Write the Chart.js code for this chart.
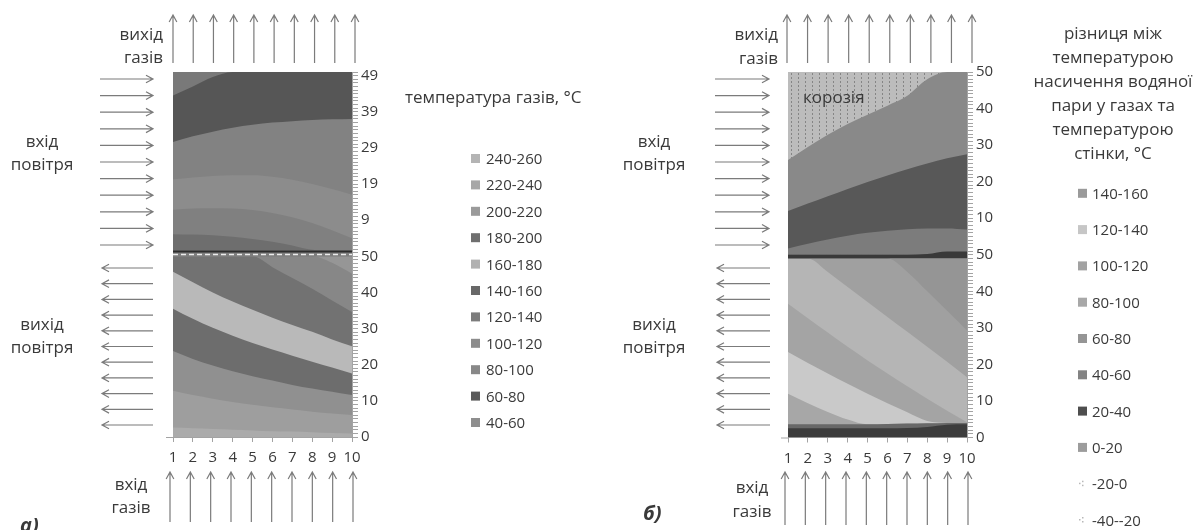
<!DOCTYPE html>
<html lang="uk">
<head>
<meta charset="utf-8">
<title>Температурні поля повітропідігрівника</title>
<script src="https://cdn.jsdelivr.net/npm/chart.js@4.4.1/dist/chart.umd.min.js"></script>
<style>
  html, body { margin: 0; background: #fff; }
  .sheet { position: relative; width: 1199px; height: 530px; overflow: hidden; }
  .sheet canvas { position: absolute; top: 0; }
  #chart-a { left: 0; }
  #chart-b { left: 600px; }
</style>
</head>
<body>
<div class="sheet">
  <canvas id="chart-a" width="600" height="530"></canvas>
  <canvas id="chart-b" width="599" height="530"></canvas>
</div>
<script>
const FONT = '"Open Sans", "DejaVu Sans", sans-serif';
const INK = '#3a3a3a';
const AXIS = '#a3a3a3';

const positions = [1, 2, 3, 4, 5, 6, 7, 8, 9, 10];

// а) lower pass (0..50): upper edge of each gas temperature band
const aLow240 = [2.6, 2.4, 2.2, 2.0, 1.8, 1.6, 1.5, 1.3, 1.1, 1.0];
const aLow220 = [12.8, 11.6, 10.6, 9.7, 8.9, 8.2, 7.6, 7.0, 6.5, 6.1];
const aLow200 = [23.8, 21.6, 19.8, 18.2, 16.8, 15.6, 14.4, 13.4, 12.5, 11.6];
const aLow180 = [35.5, 32.7, 30.2, 28.0, 26.0, 24.2, 22.5, 20.8, 19.2, 17.6];
const aLow160 = [45.7, 42.8, 40.0, 37.5, 35.2, 33.0, 31.0, 29.1, 27.0, 25.1];
const aLow140 = [50, 50, 50, 50, 50, 47.0, 44.0, 41.0, 37.8, 34.6];
const aLow120 = [50, 50, 50, 50, 50, 50, 50, 50, 48.2, 45.2];
const aLow100 = [50, 50, 50, 50, 50, 50, 50, 50, 50, 50];
const aLowColors = ['#ababab', '#9e9e9e', '#909090', '#6d6d6d', '#b9b9b9', '#727272', '#878787', '#969696'];

// а) upper pass (51.6..101)
const aUp140 = [56.1, 56.0, 55.8, 55.4, 54.8, 54.0, 53.0, 51.8, 51.6, 51.6];
const aUp120 = [62.9, 63.2, 63.3, 63.2, 62.8, 62.0, 60.8, 59.2, 57.2, 55.0];
const aUp100 = [71.3, 71.8, 72.2, 72.4, 72.4, 72.0, 71.2, 70.0, 68.6, 67.0];
const aUp80 = [81.6, 83.2, 84.5, 85.6, 86.4, 87.0, 87.4, 87.7, 87.9, 88.0];
const aUp60 = [94.5, 97.0, 99.6, 101, 101, 101, 101, 101, 101, 101];
const aUp40 = [101, 101, 101, 101, 101, 101, 101, 101, 101, 101];
const aUpColors = ['#6e6e6e', '#808080', '#8c8c8c', '#828282', '#565656', '#797979'];

// а) partition between the passes
const aSplit = [51.6, 51.6, 51.6, 51.6, 51.6, 51.6, 51.6, 51.6, 51.6, 51.6];
const aSplitDark = [51.3, 51.3, 51.3, 51.3, 51.3, 51.3, 51.3, 51.3, 51.3, 51.3];
const aSplitDash = [50.5, 50.5, 50.5, 50.5, 50.5, 50.5, 50.5, 50.5, 50.5, 50.5];

const aTickValues = [0, 10, 20, 30, 40, 50, 60, 70, 80, 90, 100];
const aTickLabels = ['0', '10', '20', '30', '40', '50', '9', '19', '29', '39', '49'];
const aLegendLabels = ['240-260', '220-240', '200-220', '180-200', '160-180', '140-160', '120-140', '100-120', '80-100', '60-80', '40-60'];
const aLegendColors = ['#b4b4b4', '#a7a7a7', '#9a9a9a', '#6f6f6f', '#b1b1b1', '#686868', '#7c7c7c', '#8c8c8c', '#888888', '#5a5a5a', '#8e8e8e'];

// б) lower pass (0..49): wall temperature margin bands
const bLow1 = [2.5, 2.5, 2.5, 2.5, 2.5, 2.5, 2.6, 2.9, 3.5, 3.6];
const bLow2 = [3.6, 3.6, 3.6, 3.6, 3.6, 3.7, 3.8, 3.9, 4.0, 4.0];
const bLow3 = [12.0, 9.4, 7.0, 4.9, 3.6, 3.7, 3.8, 3.9, 4.0, 4.0];
const bLow4 = [23.4, 20.4, 17.5, 14.7, 12.0, 9.4, 6.9, 4.5, 4.0, 4.0];
const bLow5 = [36.6, 32.6, 28.7, 24.8, 21.1, 17.5, 14.0, 10.6, 7.3, 4.2];
const bLow6 = [49, 49, 45.3, 41.2, 37.1, 33.0, 28.9, 24.8, 20.7, 16.5];
const bLow7 = [49, 49, 49, 49, 49, 49, 45.3, 40.0, 34.7, 29.3];
const bLow8 = [49, 49, 49, 49, 49, 49, 49, 49, 49, 49];
const bLowColors = ['#3c3c3c', '#686868', '#a7a7a7', '#c9c9c9', '#a4a4a4', '#b5b5b5', '#a0a0a0', '#959595'];

// б) upper pass (50..100), the top band is the corrosion zone
const bUp1 = [51.7, 53.0, 54.2, 55.2, 56.0, 56.6, 57.0, 57.2, 57.2, 56.9];
const bUp2 = [62.0, 64.0, 66.0, 68.0, 69.9, 71.7, 73.4, 75.0, 76.4, 77.5];
const bUp3 = [75.9, 79.5, 82.8, 85.8, 88.3, 90.8, 93.5, 98.0, 100, 100];
const bUp4 = [100, 100, 100, 100, 100, 100, 100, 100, 100, 100];
const bUpColors = ['#7c7c7c', '#585858', '#898989', null];

// б) partition between the passes
const bSplit = [50, 50, 50, 50, 50, 50, 50, 50.2, 50.9, 50.9];

const bTickValues = [0, 10, 20, 30, 40, 50, 60, 70, 80, 90, 100];
const bTickLabels = ['0', '10', '20', '30', '40', '50', '10', '20', '30', '40', '50'];
const bLegendLabels = ['140-160', '120-140', '100-120', '80-100', '60-80', '40-60', '20-40', '0-20', '-20-0', '-40--20'];
const bLegendColors = ['#9a9a9a', '#c6c6c6', '#a2a2a2', '#a8a8a8', '#959595', '#838383', '#4e4e4e', '#9c9c9c', null, null];

function dotPattern() {
	const c = document.createElement( 'canvas' );
	c.width = 7;
	c.height = 4;
	const g = c.getContext( '2d' );
	g.fillStyle = '#bcbcbc';
	g.fillRect( 0, 0, 7, 4 );
	g.fillStyle = '#858585';
	g.fillRect( 2, 1, 1, 2 );
	return g.createPattern( c, 'repeat' );
}

const toPoints = ( values ) => positions.map( ( x, i ) => ( { x, y: values[ i ] } ) );

// Filled area from a band's upper edge down to the floor of its pass.
function band( values, color, floor ) {
	return {
		data: toPoints( values ),
		backgroundColor: color,
		borderColor: 'rgba(0,0,0,0)',
		borderWidth: 0,
		pointRadius: 0,
		fill: { value: floor },
		cubicInterpolationMode: 'monotone',
	};
}

function rule( values, color, width, dash ) {
	return {
		data: toPoints( values ),
		borderColor: color,
		borderWidth: width,
		borderDash: dash || [],
		pointRadius: 0,
		fill: false,
	};
}

function arrow( ctx, x0, y0, x1, y1 ) {
	const a = Math.atan2( y1 - y0, x1 - x0 );
	const len = 8;
	const spread = 0.5;
	ctx.beginPath();
	ctx.moveTo( x0, y0 );
	ctx.lineTo( x1, y1 );
	ctx.moveTo( x1 - len * Math.cos( a - spread ), y1 - len * Math.sin( a - spread ) );
	ctx.lineTo( x1, y1 );
	ctx.lineTo( x1 - len * Math.cos( a + spread ), y1 - len * Math.sin( a + spread ) );
	ctx.stroke();
}

// Flow arrows, captions and legend around the plot.
const decor = {
	id: 'decor',
	afterDraw( chart, args, o ) {
		const { ctx, chartArea: area } = chart;
		ctx.save();

		// axis stub left of the origin
		ctx.strokeStyle = AXIS;
		ctx.lineWidth = 1;
		ctx.beginPath();
		ctx.moveTo( area.left - 7, area.bottom + 0.5 );
		ctx.lineTo( area.left, area.bottom + 0.5 );
		ctx.stroke();

		ctx.strokeStyle = '#7b7b7b';
		ctx.lineWidth = 1.2;
		const n = positions.length;
		positions.forEach( ( p, i ) => {
			const t = i / ( n - 1 );
			const xo = o.gasOut[ 0 ] + t * ( o.gasOut[ 1 ] - o.gasOut[ 0 ] );
			arrow( ctx, xo, 63, xo, 15 );
			const xi = o.gasIn[ 0 ] + t * ( o.gasIn[ 1 ] - o.gasIn[ 0 ] );
			arrow( ctx, xi, o.gasInY[ 0 ], xi, o.gasInY[ 1 ] );
		} );
		for ( let i = 0; i < 11; i++ ) {
			const yi = 79 + i * 16.6;
			arrow( ctx, o.airIn[ 0 ], yi, o.airIn[ 1 ], yi );
			const yo = 268 + i * 15.7;
			arrow( ctx, o.airOut[ 1 ], yo, o.airOut[ 0 ], yo );
		}

		ctx.fillStyle = INK;
		ctx.textBaseline = 'alphabetic';
		ctx.font = `17px ${ FONT }`;
		o.texts.forEach( ( [ text, x, y, align ] ) => {
			ctx.textAlign = align;
			ctx.fillText( text, x, y );
		} );

		ctx.textAlign = o.title.align;
		o.title.lines.forEach( ( line, i ) => {
			ctx.fillText( line, o.title.x, o.title.y + i * o.title.step );
		} );

		ctx.font = `bold italic 20px ${ FONT }`;
		ctx.textAlign = 'left';
		ctx.fillText( o.tag[ 0 ], o.tag[ 1 ], o.tag[ 2 ] );

		const lg = o.legend;
		ctx.font = `15px ${ FONT }`;
		lg.labels.forEach( ( label, i ) => {
			const y = lg.y + i * lg.step;
			const color = lg.colors[ i ];
			if ( color ) {
				ctx.fillStyle = color;
				ctx.fillRect( lg.x, y - 4.5, 9, 9 );
			} else {
				ctx.fillStyle = '#b8b8b8';
				ctx.fillRect( lg.x + 4, y - 3, 1.5, 1.5 );
				ctx.fillRect( lg.x + 4, y + 1, 1.5, 1.5 );
				ctx.fillRect( lg.x + 1, y - 1, 1.5, 1.5 );
			}
			ctx.fillStyle = INK;
			ctx.fillText( label, lg.x + lg.gap, y + 5.5 );
		} );

		ctx.restore();
	},
};

function makeOptions( max, tickValues, tickLabels, padding, decorOptions ) {
	return {
		responsive: false,
		animation: false,
		events: [],
		layout: { padding },
		plugins: {
			legend: { display: false },
			tooltip: { enabled: false },
			decor: decorOptions,
		},
		scales: {
			x: {
				type: 'linear',
				min: 1,
				max: 10,
				afterBuildTicks: ( axis ) => {
					axis.ticks = positions.map( ( value ) => ( { value } ) );
				},
				afterFit: ( axis ) => {
					axis.height = 30;
				},
				ticks: { autoSkip: false, color: INK, font: { family: FONT, size: 15 }, padding: 7, maxRotation: 0 },
				grid: { drawOnChartArea: false, tickLength: 5, color: AXIS },
				border: { color: AXIS },
			},
			y: {
				type: 'linear',
				position: 'right',
				min: 0,
				max,
				afterBuildTicks: ( axis ) => {
					axis.ticks = [];
					for ( let v = 0; v <= max; v++ ) {
						axis.ticks.push( { value: v } );
					}
				},
				afterFit: ( axis ) => {
					axis.width = 40;
				},
				ticks: {
					autoSkip: false,
					color: INK,
					font: { family: FONT, size: 15 },
					padding: 3,
					callback: ( value ) => {
						const i = tickValues.indexOf( value );
						return i < 0 ? '' : tickLabels[ i ];
					},
				},
				grid: { drawOnChartArea: false, tickLength: 6, color: AXIS },
				border: { color: AXIS },
			},
		},
	};
}

// Chart а): gas temperature
const aLowEdges = [ aLow240, aLow220, aLow200, aLow180, aLow160, aLow140, aLow120, aLow100 ];
const aUpEdges = [ aUp140, aUp120, aUp100, aUp80, aUp60, aUp40 ];
new Chart( document.getElementById( 'chart-a' ), {
	type: 'line',
	data: {
		datasets: [
			rule( aSplitDash, '#ececec', 1.5, [ 5, 3 ] ),
			rule( aSplitDark, '#2d2d2d', 2 ),
			band( aSplit, '#7d7d7d', 49.9 ),
			...aLowEdges.map( ( d, i ) => band( d, aLowColors[ i ], 0 ) ),
			...aUpEdges.map( ( d, i ) => band( d, aUpColors[ i ], 51.6 ) ),
		],
	},
	options: makeOptions( 101, aTickValues, aTickLabels,
		{ left: 173, right: 208, top: 72, bottom: 63 },
		{
			gasOut: [ 173, 355 ],
			gasIn: [ 170, 353 ],
			gasInY: [ 522, 472 ],
			airIn: [ 100, 153 ],
			airOut: [ 102, 153 ],
			texts: [
				[ 'вихід', 163, 40, 'right' ],
				[ 'газів', 163, 63, 'right' ],
				[ 'вхід', 42, 147, 'center' ],
				[ 'повітря', 42, 170, 'center' ],
				[ 'вихід', 42, 330, 'center' ],
				[ 'повітря', 42, 353, 'center' ],
				[ 'вхід', 131, 490, 'center' ],
				[ 'газів', 131, 513, 'center' ],
			],
			title: { lines: [ 'температура газів, °C' ], x: 405, y: 103, step: 0, align: 'left' },
			tag: [ 'а)', 20, 532 ],
			legend: { labels: aLegendLabels, colors: aLegendColors, x: 471, y: 158.5, step: 26.4, gap: 15 },
		} ),
	plugins: [ decor ],
} );

// Chart б): dew point minus wall temperature
const corrosion = dotPattern();
const bLowEdges = [ bLow1, bLow2, bLow3, bLow4, bLow5, bLow6, bLow7, bLow8 ];
const bUpEdges = [ bUp1, bUp2, bUp3, bUp4 ];
new Chart( document.getElementById( 'chart-b' ), {
	type: 'line',
	data: {
		datasets: [
			band( bSplit, '#393939', 49 ),
			...bLowEdges.map( ( d, i ) => band( d, bLowColors[ i ], 0 ) ),
			...bUpEdges.map( ( d, i ) => band( d, bUpColors[ i ] || corrosion, 50 ) ),
		],
	},
	options: makeOptions( 100, bTickValues, bTickLabels,
		{ left: 188, right: 192, top: 72, bottom: 62.5 },
		{
			gasOut: [ 187, 372 ],
			gasIn: [ 185, 368 ],
			gasInY: [ 525, 472 ],
			airIn: [ 115, 169 ],
			airOut: [ 117, 170 ],
			texts: [
				[ 'вихід', 178, 40, 'right' ],
				[ 'газів', 178, 64, 'right' ],
				[ 'вхід', 54, 147, 'center' ],
				[ 'повітря', 54, 170, 'center' ],
				[ 'вихід', 54, 330, 'center' ],
				[ 'повітря', 54, 353, 'center' ],
				[ 'вхід', 152, 493, 'center' ],
				[ 'газів', 152, 517, 'center' ],
				[ 'корозія', 203, 103, 'left' ],
			],
			title: {
				lines: [ 'різниця між', 'температурою', 'насичення водяної', 'пари у газах та', 'температурою', 'стінки, °C' ],
				x: 513, y: 39, step: 24, align: 'center',
			},
			tag: [ 'б)', 43, 520 ],
			legend: { labels: bLegendLabels, colors: bLegendColors, x: 478, y: 193.3, step: 36.3, gap: 14 },
		} ),
	plugins: [ decor ],
} );
</script>
</body>
</html>
